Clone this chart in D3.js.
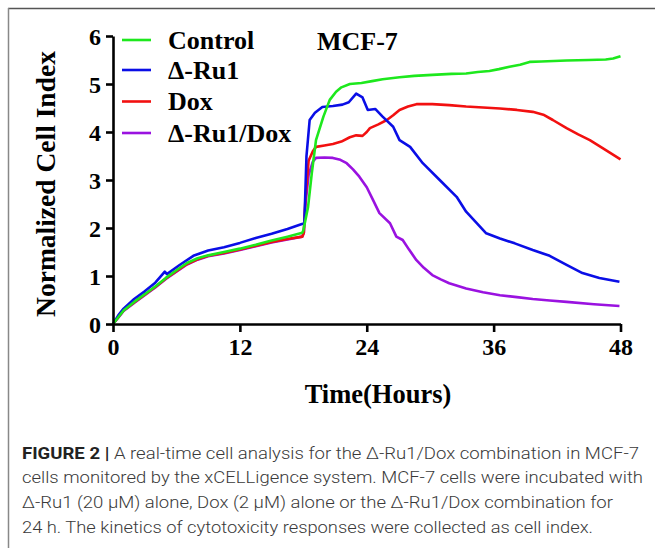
<!DOCTYPE html>
<html>
<head>
<meta charset="utf-8">
<script src="https://cdn.jsdelivr.net/npm/d3@7"></script>
<style>
  html, body { margin: 0; padding: 0; background: #fff; }
  svg { display: block; }
</style>
</head>
<body>
<script>
// ---------- data ----------
const seriesNames = ["Control", "Δ-Ru1", "Dox", "Δ-Ru1/Dox"];
const seriesColors = ["#1de81d", "#0a0ee6", "#f21010", "#9a12e0"];

const controlT = [0,0.5,1,2,3,4,5,6,7,8,9,10.5,12,13.5,15,16.5,17.9,18.0,18.45,18.8,19.2,19.9,20.5,21.1,21.6,22.4,23.5,24.5,25.5,27.1,28.5,30.2,32,33.4,34.5,35.6,36.5,37.5,38.5,39.4,40.5,42.9,45,46.6,47.3,48];
const controlV = [0,0.14,0.28,0.46,0.62,0.78,0.96,1.12,1.27,1.37,1.43,1.5,1.57,1.65,1.74,1.82,1.90,1.95,2.44,3.14,3.83,4.32,4.67,4.84,4.93,5.0,5.02,5.06,5.1,5.14,5.17,5.19,5.21,5.22,5.25,5.27,5.31,5.36,5.4,5.46,5.47,5.49,5.5,5.51,5.53,5.58];

const ru1T = [0,0.5,1,2,3,4,4.9,5.1,6.3,7.6,9,10.5,12,13.5,15,16.5,17.8,18.1,18.3,18.6,19.1,19.8,20.8,21.7,22.3,23.0,23.6,24.1,24.8,25.5,26.5,27.1,28.1,29.3,30.9,32.5,33.4,35.3,36.6,38,39.7,41.3,42.9,44.4,46,47.9];
const ru1V = [0,0.18,0.32,0.52,0.68,0.86,1.09,1.04,1.23,1.42,1.53,1.6,1.69,1.79,1.88,1.98,2.08,2.1,3.5,4.25,4.4,4.52,4.54,4.57,4.62,4.80,4.72,4.46,4.48,4.32,4.11,3.83,3.69,3.35,3.0,2.65,2.34,1.89,1.78,1.68,1.54,1.42,1.23,1.06,0.96,0.88];

const doxT = [0,0.5,1,2,3,4,5,6,7,8,9,10.5,12,13.5,15,16.5,17.9,18.05,18.2,18.5,18.9,19.2,20.0,20.8,21.6,22.4,23.0,23.6,24.0,24.3,25.1,25.9,26.5,27.1,27.9,28.7,30.2,31.8,33.4,35,36.6,38.2,39.7,40.7,41.6,42.9,44,45.1,46.5,48];
const doxV = [0,0.14,0.28,0.45,0.61,0.77,0.95,1.1,1.25,1.35,1.42,1.48,1.55,1.63,1.71,1.77,1.82,1.9,2.6,3.4,3.6,3.69,3.72,3.75,3.8,3.89,3.93,3.92,4.0,4.08,4.16,4.25,4.35,4.46,4.53,4.58,4.58,4.56,4.53,4.51,4.49,4.46,4.42,4.36,4.25,4.08,3.95,3.83,3.64,3.43];

const comboT = [0,0.5,1,2,3,4,5,6,7,8,9,10.5,12,13.5,15,16.5,17.9,18.05,18.2,18.5,18.9,19.2,20,20.8,21.5,22.1,22.7,23.3,24.0,24.6,25.2,26.2,26.8,27.4,28.0,28.7,29.4,30.2,31.0,31.8,33.4,35,36.6,38.2,39.7,41.3,42.9,45.5,47.9];
const comboV = [0,0.13,0.27,0.44,0.6,0.76,0.94,1.09,1.24,1.34,1.41,1.47,1.54,1.62,1.7,1.76,1.82,1.9,2.5,3.1,3.38,3.46,3.47,3.46,3.42,3.35,3.22,3.07,2.85,2.58,2.31,2.10,1.82,1.75,1.55,1.33,1.17,1.02,0.93,0.85,0.74,0.66,0.60,0.56,0.52,0.49,0.46,0.41,0.375];

const xTicks = [0, 12, 24, 36, 48];
const yTicks = [0, 1, 2, 3, 4, 5, 6];
const xTitle = "Time(Hours)";
const yTitle = "Normalized Cell Index";
const panelTitle = "MCF-7";
const captionBold = "FIGURE 2 | ";
const captionLines = [
  "A real-time cell analysis for the Δ-Ru1/Dox combination in MCF-7",
  "cells monitored by the xCELLigence system. MCF-7 cells were incubated with",
  "Δ-Ru1 (20 μM) alone, Dox (2 μM) alone or the Δ-Ru1/Dox combination for",
  "24 h. The kinetics of cytotoxicity responses were collected as cell index."
];

// ---------- drawing ----------
const W = 655, H = 548;
const svg = d3.select("body").append("svg").attr("width", W).attr("height", H);

// frame
svg.append("line").attr("x1", 8).attr("x2", W).attr("y1", 8.5).attr("y2", 8.5)
  .attr("stroke", "#555").attr("stroke-width", 1.5);
svg.append("line").attr("x1", 8.5).attr("x2", 8.5).attr("y1", 8).attr("y2", H)
  .attr("stroke", "#888").attr("stroke-width", 1.5);

const x = d3.scaleLinear().domain([0, 48]).range([113, 620.5]);
const y = d3.scaleLinear().domain([0, 6]).range([324, 36]);

const serif = "'Liberation Serif', 'Times New Roman', serif";

// series
const allSeries = [
  {name: seriesNames[3], color: seriesColors[3], t: comboT, v: comboV},
  {name: seriesNames[2], color: seriesColors[2], t: doxT, v: doxV},
  {name: seriesNames[1], color: seriesColors[1], t: ru1T, v: ru1V},
  {name: seriesNames[0], color: seriesColors[0], t: controlT, v: controlV}
];
const line = d3.line().x(d => x(d[0])).y(d => y(d[1]));
allSeries.forEach(s => {
  svg.append("path")
    .datum(s.t.map((t, i) => [t, s.v[i]]))
    .attr("d", line)
    .attr("fill", "none")
    .attr("stroke", s.color)
    .attr("stroke-width", 2.6)
    .attr("stroke-linejoin", "round");
});

// axes
const yAxis = d3.axisLeft(y).tickValues(yTicks).tickFormat(d3.format("d"))
  .tickSize(7).tickSizeOuter(0).tickPadding(5);
const xAxis = d3.axisBottom(x).tickValues(xTicks).tickFormat(d3.format("d"))
  .tickSize(8).tickSizeOuter(0).tickPadding(6);

const gy = svg.append("g").attr("transform", "translate(113,0)").call(yAxis);
const gx = svg.append("g").attr("transform", "translate(0,324)").call(xAxis);
[gx, gy].forEach(g => {
  g.select(".domain").attr("stroke", "#000").attr("stroke-width", 2.6);
  g.selectAll(".tick line").attr("stroke", "#000").attr("stroke-width", 2.6);
  g.selectAll(".tick text").attr("fill", "#000")
    .style("font-family", serif).style("font-weight", "bold").style("font-size", "24px");
});
gy.selectAll(".tick text").attr("dy", "0.34em");

// axis titles
svg.append("text")
  .attr("transform", "translate(54.5,184) rotate(-90)")
  .attr("text-anchor", "middle")
  .style("font-family", serif).style("font-weight", "bold").style("font-size", "27.5px")
  .text(yTitle);
svg.append("text")
  .attr("x", 378).attr("y", 403)
  .attr("text-anchor", "middle")
  .style("font-family", serif).style("font-weight", "bold").style("font-size", "26.5px")
  .text(xTitle);

// panel title
svg.append("text")
  .attr("x", 317).attr("y", 50)
  .style("font-family", serif).style("font-weight", "bold").style("font-size", "26px")
  .text(panelTitle);

// legend
const legendOrder = [0, 1, 2, 3];
const legendY = [40, 70, 101.5, 133];
legendOrder.forEach((k, i) => {
  svg.append("line")
    .attr("x1", 122).attr("x2", 151)
    .attr("y1", legendY[i]).attr("y2", legendY[i])
    .attr("stroke", seriesColors[k]).attr("stroke-width", 2.6);
  svg.append("text")
    .attr("x", 168).attr("y", legendY[i] + 8.5)
    .style("font-family", serif).style("font-weight", "bold").style("font-size", "26px")
    .text(seriesNames[k]);
});

// caption
const capBase = [458.5, 483, 507.5, 532.5];
const capEnd = [639, 643, 613, 593];
const sans = "Roboto, 'Liberation Sans', Arial, sans-serif";
captionLines.forEach((txt, i) => {
  const t = svg.append("text")
    .attr("x", 22).attr("y", capBase[i])
    .attr("textLength", capEnd[i] - 22)
    .attr("lengthAdjust", "spacingAndGlyphs")
    .style("font-family", sans).style("font-size", "16.5px")
    .attr("fill", "#3a3a3a");
  if (i === 0) {
    t.append("tspan").style("font-weight", "bold").attr("fill", "#222").text(captionBold);
  }
  t.append("tspan").style("font-weight", "300").text(txt);
});
</script>
</body>
</html>
